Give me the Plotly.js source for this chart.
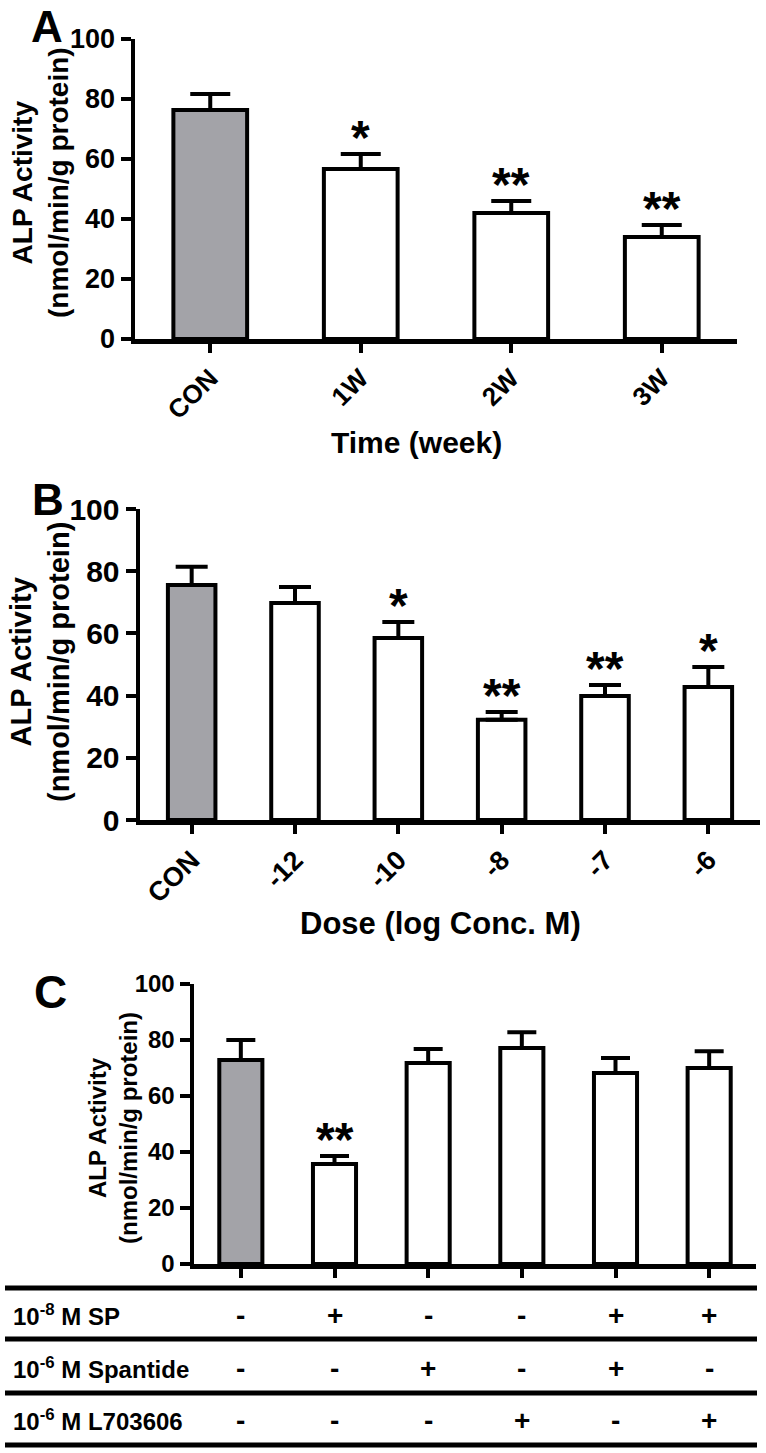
<!DOCTYPE html>
<html><head><meta charset="utf-8">
<script src="https://cdn.plot.ly/plotly-3.0.1.min.js"></script>
<style>html,body{margin:0;padding:0;background:#fff}</style>
</head><body><div id="chart" style="width:766px;height:1453px"></div>
<script>
// ---------- data ----------
// Panel A
const catsA = ['CON', '1W', '2W', '3W'];
const valsA = [76.3, 56.7, 42, 34];
const errA  = [5.4, 5, 4, 4];
const sigA  = ['', '*', '**', '**'];
// Panel B
const catsB = ['CON', '-12', '-10', '-8', '-7', '-6'];
const valsB = [75.6, 69.8, 58.5, 32.2, 39.9, 42.8];
const errB  = [5.8, 5.1, 5.2, 2.5, 3.5, 6.4];
const sigB  = ['', '', '*', '**', '**', '*'];
// Panel C
const catsC = ['g1', 'g2', 'g3', 'g4', 'g5', 'g6'];
const valsC = [72.9, 35.7, 71.8, 77.1, 68.2, 70];
const errC  = [7.1, 2.9, 5, 5.7, 5.4, 6];
const sigC  = ['', '**', '', '', '', ''];
// Table under panel C
const rowLabels   = ['10<sup>-8</sup> M SP', '10<sup>-6</sup> M Spantide', '10<sup>-6</sup> M L703606'];
const rowSP       = ['-', '+', '-', '-', '+', '+'];
const rowSpantide = ['-', '-', '+', '-', '+', '-'];
const rowL7       = ['-', '-', '-', '+', '-', '+'];
const tableRows = [rowSP, rowSpantide, rowL7];

// ---------- layout helpers ----------
const W = 766, H = 1453;
const fx = p => p / W;
const fy = p => 1 - p / H;
const FONT = 'Liberation Sans, Arial, Helvetica, sans-serif';
const GRAY = '#a3a3a8';

function barTrace(cats, vals, errs, xa, ya, width, capw) {
  return {
    type: 'bar', x: cats, y: vals, xaxis: xa, yaxis: ya, width: width,
    marker: { color: vals.map((v, i) => i === 0 ? GRAY : '#ffffff'), line: { color: '#000', width: 4 } },
    error_y: { type: 'data', symmetric: false, array: errs, arrayminus: errs.map(() => 0),
               color: '#000', thickness: 4, width: capw },
    hoverinfo: 'none', showlegend: false
  };
}

const data = [
  barTrace(catsA, valsA, errA, 'x', 'y', 0.49, 20),
  barTrace(catsB, valsB, errB, 'x2', 'y2', 0.46, 16),
  barTrace(catsC, valsC, errC, 'x3', 'y3', 0.46, 14.5)
];

function yAx(dom, anchor, fs) {
  return { domain: dom, anchor: anchor, range: [0, 100], dtick: 20, tick0: 0,
    showline: true, linecolor: '#000', linewidth: 4.5, ticks: 'outside', ticklen: 10, tickwidth: 4,
    tickcolor: '#000', showgrid: false, zeroline: false, fixedrange: true,
    tickfont: { family: FONT, size: fs, color: '#000', weight: 'bold' } };
}
function xAx(dom, anchor, fs, showLabels, cats) {
  return { domain: dom, anchor: anchor, type: 'category', categoryorder: 'array', categoryarray: cats,
    range: [-0.5, cats.length - 0.5], autorange: false,
    showline: true, linecolor: '#000', linewidth: 4.5, ticks: 'outside', ticklen: 9, tickwidth: 4,
    tickcolor: '#000', showgrid: false, zeroline: false, fixedrange: true, tickangle: -45,
    showticklabels: showLabels,
    tickfont: { family: FONT, size: fs, color: '#000', weight: 'bold' } };
}

const ann = [];
function txt(x, y, text, size, extra) {
  ann.push(Object.assign({ xref: 'paper', yref: 'paper', x: fx(x), y: fy(y), text: text, showarrow: false,
    xanchor: 'center', yanchor: 'middle', font: { family: FONT, size: size, color: '#000', weight: 'bold' } }, extra || {}));
}
// panel letters
txt(47, 27, 'A', 44);
txt(48, 499, 'B', 44);
txt(50, 992, 'C', 46);
// y titles
const yTitle = 'ALP Activity<br>(nmol/min/g protein)';
txt(40, 183, yTitle, 28, { textangle: -90 });
txt(40, 662, yTitle, 29, { textangle: -90 });
txt(113, 1128, yTitle, 24, { textangle: -90 });
// x titles
txt(416, 443, 'Time (week)', 30);
txt(440, 923, 'Dose (log Conc. M)', 31);

// significance stars (x given as category index)
function stars(vals, errs, sig, xa, ya) {
  vals.forEach((v, i) => {
    if (!sig[i]) return;
    ann.push({ xref: xa, yref: ya, x: i, y: v + errs[i], text: sig[i], showarrow: false,
      xanchor: 'center', yanchor: 'bottom', yshift: -12,
      font: { family: FONT, size: 48, color: '#000', weight: 'bold' } });
  });
}
stars(valsA, errA, sigA, 'x', 'y');
stars(valsB, errB, sigB, 'x2', 'y2');
stars(valsC, errC, sigC, 'x3', 'y3');

// table
const rowY = [1315, 1368, 1420];
const lineY = [1288, 1339, 1393, 1445];
const shapes = lineY.map(y => ({ type: 'line', xref: 'paper', yref: 'paper', x0: fx(5), x1: fx(757),
  y0: fy(y), y1: fy(y), line: { color: '#000', width: 5 } }));
rowLabels.forEach((lab, r) => {
  txt(11, rowY[r], lab, 24, { xanchor: 'left' });
  tableRows[r].forEach((s, i) => {
    ann.push({ xref: 'x3', yref: 'paper', x: i, y: fy(rowY[r]), text: s, showarrow: false,
      xanchor: 'center', yanchor: 'middle', font: { family: FONT, size: 28, color: '#000', weight: 'bold' } });
  });
});

const layout = {
  width: W, height: H, margin: { l: 0, r: 0, t: 0, b: 0 },
  paper_bgcolor: '#fff', plot_bgcolor: 'rgba(0,0,0,0)', showlegend: false, bargap: 0,
  font: { family: FONT, color: '#000' },
  xaxis:  xAx([fx(135), fx(737)], 'y', 26, true, catsA),
  yaxis:  yAx([fy(339), fy(39)], 'x', 27),
  xaxis2: xAx([fx(140), fx(760)], 'y2', 27, true, catsB),
  yaxis2: yAx([fy(820), fy(509)], 'x2', 30),
  xaxis3: xAx([fx(194), fx(756)], 'y3', 24, false, catsC),
  yaxis3: yAx([fy(1264), fy(984)], 'x3', 24),
  annotations: ann, shapes: shapes
};

Plotly.newPlot('chart', data, layout, { staticPlot: true, displayModeBar: false });
</script>
</body></html>
